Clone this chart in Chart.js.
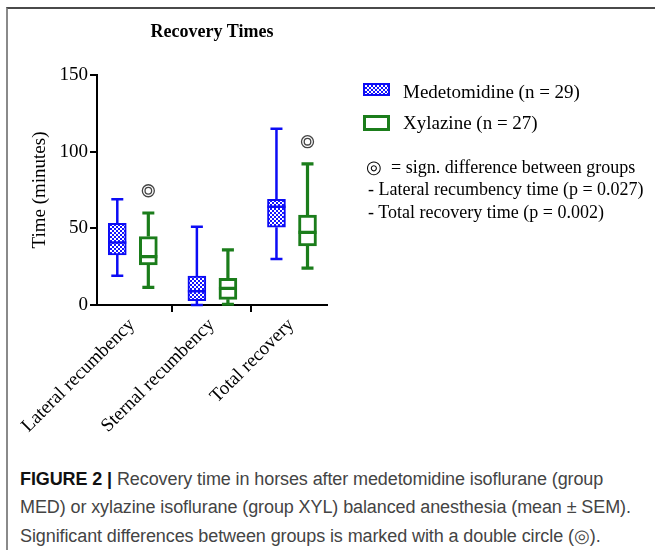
<!DOCTYPE html>
<html>
<head>
<meta charset="utf-8">
<script src="https://cdn.jsdelivr.net/npm/chart.js@4/dist/chart.umd.min.js"></script>
<style>
  html, body { margin: 0; padding: 0; background: #fff; }
  body { width: 655px; height: 550px; position: relative; overflow: hidden; }
  #frame { position: absolute; left: 6px; top: 7px; width: 700px; height: 600px;
           border-top: 2px solid #4a4a4a; border-left: 2px solid #8a8a8a; }
  #chart { position: absolute; left: 0; top: 0; }
  #title { position: absolute; left: 112px; width: 200px; top: 21px; text-align: center;
           font: bold 18px "Liberation Serif", "Times New Roman", serif; color: #000; }
  .leg { position: absolute; font: 19px "Liberation Serif", "Times New Roman", serif; color: #000; white-space: nowrap; }
  .sw { position: absolute; box-sizing: border-box; }
  #sw1 { left: 363px; top: 83px; width: 27px; height: 13px; border: 2px solid #0c0cf5;
         background: repeating-conic-gradient(#1414ff 0 25%, #ffffff 0 50%) 0 0/4px 4px; }
  #sw2 { left: 363px; top: 115px; width: 27px; height: 16px; border: 3px solid #1b7d1b; background: #fff; }
  .note { position: absolute; font: 18px "Liberation Serif", "Times New Roman", serif; color: #000; white-space: nowrap; }
  .cap { position: absolute; left: 20px; font: 18px "Liberation Sans", Arial, sans-serif; color: #444; white-space: nowrap; letter-spacing: -0.1px; }
  .cap b { color: #111; }
</style>
</head>
<body>
<div id="frame"></div>
<canvas id="chart" width="655" height="440"></canvas>
<div id="title">Recovery Times</div>

<div class="sw" id="sw1"></div>
<div class="leg" style="left:403px; top:81px;">Medetomidine (n = 29)</div>
<div class="sw" id="sw2"></div>
<div class="leg" style="left:403px; top:112px;">Xylazine (n = 27)</div>

<div class="note" style="left:366px; top:156px;">◎&nbsp; = sign. difference between groups</div>
<div class="note" style="left:368px; top:179px;">- Lateral recumbency time (p = 0.027)</div>
<div class="note" style="left:368px; top:202px;">- Total recovery time (p = 0.002)</div>

<div class="cap" style="top:469px;"><b>FIGURE 2 |</b> Recovery time in horses after medetomidine isoflurane (group</div>
<div class="cap" style="top:497px;">MED) or xylazine isoflurane (group XYL) balanced anesthesia (mean ± SEM).</div>
<div class="cap" style="top:525px;">Significant differences between groups is marked with a double circle (◎).</div>

<script>
// ---- data ----
const categories = ["Lateral recumbency", "Sternal recumbency", "Total recovery"];
const seriesNames = ["Medetomidine (n = 29)", "Xylazine (n = 27)"];

const medMin    = [19, 0, 30];
const medQ1     = [32.6, 2.8, 50.7];
const medMedian = [40.7, 9, 64.1];
const medQ3     = [53.3, 18.9, 68.9];
const medMax    = [69, 51, 115];

const xylMin    = [11.5, 0.5, 24];
const xylQ1     = [26.1, 3.7, 38.5];
const xylMedian = [31.5, 10.9, 47.4];
const xylQ3     = [44.6, 17.4, 58.7];
const xylMax    = [60, 36, 92];

const sigCategory = [0, 2];
const sigValue    = [74.5, 106.5];

const yTicks = [0, 50, 100, 150];

// ---- styling ----
const BLUE = "#0c0cf5";
const GREEN = "#1b7d1b";
const OFFSETS = [-0.185, 0.205];
const SERIF = "'Liberation Serif', 'Times New Roman', serif";

function makePattern() {
  const c = document.createElement("canvas");
  c.width = 4; c.height = 4;
  const g = c.getContext("2d");
  g.fillStyle = "#1414ff"; g.fillRect(0, 0, 4, 4);
  g.fillStyle = "#ffffff"; g.fillRect(0, 0, 2, 2); g.fillRect(2, 2, 2, 2);
  return g.createPattern(c, "repeat");
}
const ctx = document.getElementById("chart").getContext("2d");
const pattern = makePattern();

const boxStats = [
  { min: medMin, q1: medQ1, med: medMedian, q3: medQ3, max: medMax, color: BLUE, lw: 2.5, cap: 12 },
  { min: xylMin, q1: xylQ1, med: xylMedian, q3: xylQ3, max: xylMax, color: GREEN, lw: 3.2, cap: 12 }
];

const whiskerPlugin = {
  id: "whiskers",
  afterDatasetsDraw(chart) {
    const c = chart.ctx;
    const ys = chart.scales.y;
    boxStats.forEach((s, d) => {
      const meta = chart.getDatasetMeta(d);
      meta.data.forEach((el, i) => {
        const x = el.x;
        const w = el.width;
        c.save();
        c.strokeStyle = s.color;
        c.lineWidth = s.lw;
        c.lineCap = "butt";
        const pMin = ys.getPixelForValue(s.min[i]);
        const pMax = ys.getPixelForValue(s.max[i]);
        const pQ1 = ys.getPixelForValue(s.q1[i]);
        const pQ3 = ys.getPixelForValue(s.q3[i]);
        const pMed = ys.getPixelForValue(s.med[i]);
        c.beginPath();
        c.moveTo(x, pQ3); c.lineTo(x, pMax);
        c.moveTo(x - s.cap / 2, pMax); c.lineTo(x + s.cap / 2, pMax);
        c.moveTo(x, pQ1); c.lineTo(x, pMin);
        c.moveTo(x - s.cap / 2, pMin); c.lineTo(x + s.cap / 2, pMin);
        c.moveTo(x - w / 2, pMed); c.lineTo(x + w / 2, pMed);
        c.stroke();
        c.restore();
      });
    });
  }
};

const sigData = sigCategory.map((ci, k) => ({ x: ci + OFFSETS[1], y: sigValue[k] }));

new Chart(ctx, {
  data: {
    datasets: [
      {
        type: "bar", label: seriesNames[0],
        data: categories.map((c, i) => ({ x: i + OFFSETS[0], y: [medQ1[i], medQ3[i]] })),
        backgroundColor: pattern, borderColor: BLUE, borderWidth: 2,
        borderSkipped: false, barThickness: 18, grouped: false, order: 2
      },
      {
        type: "bar", label: seriesNames[1],
        data: categories.map((c, i) => ({ x: i + OFFSETS[1], y: [xylQ1[i], xylQ3[i]] })),
        backgroundColor: "#ffffff", borderColor: GREEN, borderWidth: 3,
        borderSkipped: false, barThickness: 18, grouped: false, order: 2
      },
      {
        type: "scatter", label: "sig outer", data: sigData,
        pointRadius: 6, pointBorderWidth: 1.3, pointBorderColor: "#444",
        pointBackgroundColor: "rgba(0,0,0,0)", order: 1
      },
      {
        type: "scatter", label: "sig inner", data: sigData,
        pointRadius: 3.3, pointBorderWidth: 1.3, pointBorderColor: "#444",
        pointBackgroundColor: "rgba(0,0,0,0)", order: 1
      }
    ]
  },
  options: {
    responsive: false,
    animation: false,
    devicePixelRatio: 1,
    layout: { padding: { left: 0, top: 75, right: 328, bottom: 0 } },
    plugins: { legend: { display: false }, tooltip: { enabled: false }, title: { display: false } },
    scales: {
      x: {
        type: "linear", min: -0.44, max: 2.45, offset: false,
        afterBuildTicks(scale) { scale.ticks = categories.map((c, i) => ({ value: i })); },
        afterFit(scale) { scale.height = 135; },
        ticks: {
          callback: (v) => categories[v] ?? "",
          minRotation: 45, maxRotation: 45, autoSkip: false,
          font: { family: SERIF, size: 19 }, color: "#000", padding: 2
        },
        grid: { drawOnChartArea: false, drawTicks: true, tickLength: 7, color: "#000", lineWidth: 2 },
        border: { display: true, color: "#000", width: 2 }
      },
      y: {
        type: "linear", min: 0, max: 150,
        afterBuildTicks(scale) { scale.ticks = yTicks.map(v => ({ value: v })); },
        afterFit(scale) { scale.width = 97; },
        ticks: { font: { family: SERIF, size: 19 }, color: "#000", padding: 2 },
        grid: { drawOnChartArea: false, drawTicks: true, tickLength: 7, color: "#000", lineWidth: 2 },
        border: { display: true, color: "#000", width: 2 },
        title: { display: true, text: "Time (minutes)", font: { family: SERIF, size: 19 }, color: "#000",
                 padding: { top: 29, bottom: 0 } }
      }
    }
  },
  plugins: [whiskerPlugin]
});
</script>
</body>
</html>
